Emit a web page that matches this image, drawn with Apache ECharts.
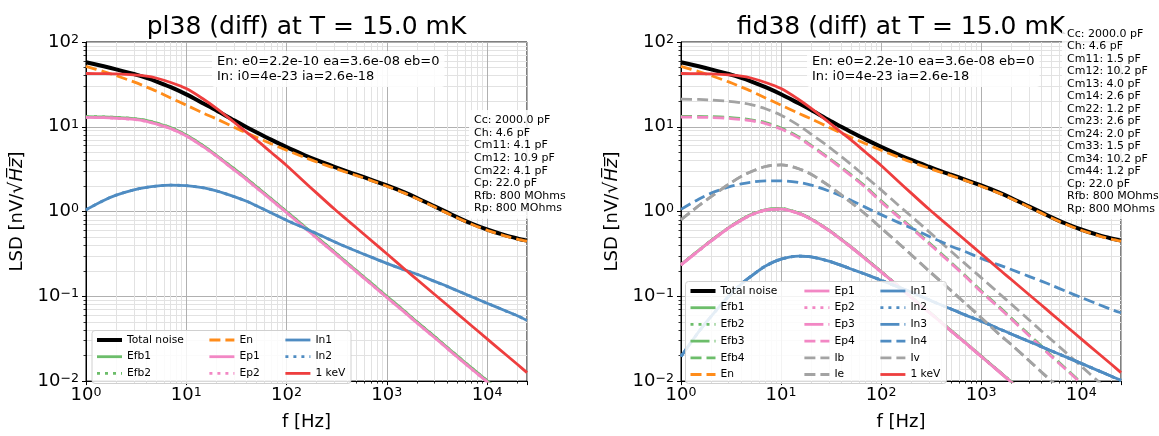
<!DOCTYPE html>
<html><head><meta charset="utf-8">
<script src="https://cdn.jsdelivr.net/npm/echarts@6/dist/echarts.min.js"></script>
<style>html,body{margin:0;padding:0;background:#fff}#c{width:1159px;height:436px}</style>
</head><body><div id="c"></div>
<script>
// ---------- data ----------
const freq = [1,1.5,2,3,4,5,7,10,15,20,30,40,50,70,100,150,200,300,400,500,700,1000,1500,2000,3000,4000,5000,7000,10000,15000,20000,25000];

// common curves
const enBoth = [51.6,44.8,40.1,33.8,29.5,26.4,21.9,18.0,14.4,12.4,9.88,8.44,7.53,6.32,5.29,4.37,3.84,3.25,2.89,2.65,2.32,1.99,1.65,1.418,1.129,0.958,0.844,0.709,0.602,0.517,0.474,0.448];
const keV = [42.5,42.3,42,41,39.6,37.6,33.3,28.2,21,16.5,11.3,8.6,7.0,5.0,3.5,2.25,1.65,1.07,0.8,0.64,0.455,0.318,0.21,0.158,0.105,0.079,0.063,0.045,0.0315,0.021,0.0158,0.0126];

// left plot: pl38
const totalL = [57.8,51.8,47.6,41.9,37.8,34.4,29.3,24.1,18.7,15.6,11.9,9.9,8.63,7.05,5.75,4.65,4.04,3.37,2.98,2.72,2.37,2.03,1.68,1.445,1.151,0.977,0.861,0.723,0.614,0.526,0.481,0.454];
const efbL = [13.2,13.1,12.9,12.5,11.9,11.1,9.8,8.0,5.9,4.6,3.2,2.45,1.97,1.42,1.0,0.67,0.5,0.335,0.25,0.2,0.143,0.1,0.067,0.05,0.0335,0.025,0.02,0.0143,0.0101,0.0067,0.005,0.004];
const epL = [12.9,12.8,12.6,12.2,11.6,10.8,9.5,7.8,5.75,4.5,3.1,2.38,1.91,1.38,0.97,0.65,0.485,0.325,0.243,0.194,0.139,0.097,0.065,0.0485,0.0325,0.0243,0.0194,0.0139,0.0098,0.0065,0.0049,0.0039];
const inL = [1.05,1.35,1.56,1.8,1.93,2.0,2.05,2.02,1.9,1.75,1.5,1.32,1.17,0.97,0.79,0.64,0.55,0.44,0.38,0.34,0.29,0.245,0.205,0.182,0.15,0.131,0.117,0.099,0.083,0.068,0.059,0.052];

// right plot: fid38
const totalR = [57.8,51.8,47.6,41.9,37.8,34.4,29.3,24.2,18.9,15.8,12.0,10.0,8.7,7.1,5.8,4.68,4.06,3.38,2.98,2.72,2.37,2.03,1.68,1.445,1.151,0.977,0.861,0.723,0.614,0.526,0.481,0.454];
const efb123R = [0.237,0.348,0.455,0.645,0.8,0.92,1.05,1.08,0.96,0.82,0.605,0.47,0.384,0.278,0.196,0.131,0.098,0.066,0.0495,0.0394,0.0283,0.0197,0.0131,0.0098,0.0066,0.0049,0.0039,0.0028,0.002,0.0013,0.001,0.0008];
const ep123R = [0.235,0.345,0.45,0.64,0.79,0.91,1.04,1.07,0.95,0.81,0.6,0.465,0.38,0.275,0.194,0.13,0.097,0.065,0.049,0.039,0.028,0.0195,0.013,0.0097,0.0065,0.0049,0.0039,0.0028,0.002,0.0013,0.001,0.0008];
const efb4R = [13.3,13.25,13.15,12.9,12.5,12.1,11.2,9.65,7.6,6.05,4.3,3.33,2.72,1.97,1.335,0.88,0.655,0.43,0.318,0.251,0.174,0.116,0.076,0.0553,0.0354,0.026,0.0202,0.0141,0.0096,0.0064,0.0047,0.0037];
const ep4R = [13.0,12.95,12.85,12.6,12.2,11.8,10.9,9.4,7.4,5.9,4.2,3.25,2.65,1.92,1.3,0.86,0.64,0.42,0.31,0.245,0.17,0.113,0.074,0.054,0.0345,0.0253,0.0197,0.0138,0.0094,0.0062,0.0046,0.0036];
const ibR = [21.2,21.0,20.7,20.0,19.2,18.3,16.3,13.7,10.4,8.2,5.8,4.45,3.6,2.58,1.8,1.18,0.88,0.58,0.43,0.34,0.24,0.166,0.109,0.081,0.053,0.039,0.031,0.0218,0.015,0.0098,0.0073,0.0058];
const ieR = [0.8,1.17,1.5,2.1,2.6,2.95,3.4,3.55,3.2,2.75,2.02,1.57,1.28,0.93,0.64,0.42,0.31,0.2,0.148,0.117,0.082,0.056,0.036,0.027,0.0175,0.0128,0.0101,0.0071,0.0049,0.0032,0.0024,0.0019];
const ivR = [0.8,1.17,1.5,2.1,2.6,2.95,3.4,3.55,3.2,2.75,2.02,1.57,1.28,0.93,0.64,0.42,0.31,0.2,0.148,0.117,0.082,0.056,0.036,0.027,0.0175,0.0128,0.0101,0.0071,0.0049,0.0032,0.0024,0.0019];
const in123R = [0.0195,0.038,0.058,0.1,0.14,0.172,0.228,0.275,0.298,0.292,0.26,0.232,0.21,0.182,0.155,0.128,0.112,0.091,0.079,0.071,0.06,0.051,0.0415,0.036,0.0294,0.0255,0.0228,0.0193,0.0162,0.0132,0.0114,0.0102];
const in4R = [1.06,1.4,1.65,1.95,2.12,2.22,2.3,2.3,2.2,2.05,1.75,1.53,1.36,1.12,0.92,0.74,0.64,0.51,0.44,0.39,0.335,0.28,0.235,0.207,0.172,0.151,0.136,0.115,0.097,0.08,0.07,0.064];

// ticks / texts
const xTickExp = [0,1,2,3,4];
const yTickExp = [-2,-1,0,1,2];
const titles = ['pl38 (diff) at T = 15.0 mK', 'fid38 (diff) at T = 15.0 mK'];
const noteLines = ['En: e0=2.2e-10 ea=3.6e-08 eb=0', 'In: i0=4e-23 ia=2.6e-18'];
const paramsL = ['Cc: 2000.0 pF','Ch: 4.6 pF','Cm11: 4.1 pF','Cm12: 10.9 pF','Cm22: 4.1 pF','Cp: 22.0 pF','Rfb: 800 MOhms','Rp: 800 MOhms'];
const paramsR = ['Cc: 2000.0 pF','Ch: 4.6 pF','Cm11: 1.5 pF','Cm12: 10.2 pF','Cm13: 4.0 pF','Cm14: 2.6 pF','Cm22: 1.2 pF','Cm23: 2.6 pF','Cm24: 2.0 pF','Cm33: 1.5 pF','Cm34: 10.2 pF','Cm44: 1.2 pF','Cp: 22.0 pF','Rfb: 800 MOhms','Rp: 800 MOhms'];
const legendColsL = [['Total noise','Efb1','Efb2'],['En','Ep1','Ep2'],['In1','In2','1 keV']];
const legendColsR = [['Total noise','Efb1','Efb2','Efb3','Efb4','En'],['Ep1','Ep2','Ep3','Ep4','Ib','Ie'],['In1','In2','In3','In4','Iv','1 keV']];

// ---------- styles ----------
const FONT = 'DejaVu Sans';
const C = {black:'#000000', green:'#6cbd6a', orange:'#ff8c1a', pink:'#f287c4', blue:'#4f8cc2', gray:'#a3a3a3', red:'#ee3e3e'};
const DASH = {solid:'solid', dot:[3,5], dashdot:[19,5,3,5], dash:[11,5]};
const GRIDS = [{left:86, top:42, width:441, height:347},{left:681, top:42, width:440, height:347}];

function mk(name, vals, color, dash, width, g) {
  return {type:'line', name, xAxisIndex:g, yAxisIndex:g,
    data: freq.map((f,i)=>[f, vals[i]]),
    showSymbol:false, symbol:'none', smooth:0.3, clip:true, silent:true, animation:false,
    lineStyle:{color, width, type:DASH[dash], cap:'butt', join:'round'}, itemStyle:{color}, z:2};
}

const series = [
  mk('Total noise', totalL, C.black, 'solid', 4, 0),
  mk('Efb1', efbL, C.green, 'solid', 2.8, 0),
  mk('Efb2', efbL, C.green, 'dot', 2.8, 0),
  mk('En', enBoth, C.orange, 'dash', 2.8, 0),
  mk('Ep1', epL, C.pink, 'solid', 2.8, 0),
  mk('Ep2', epL, C.pink, 'dot', 2.8, 0),
  mk('In1', inL, C.blue, 'solid', 2.8, 0),
  mk('In2', inL, C.blue, 'dot', 2.8, 0),
  mk('1 keV', keV, C.red, 'solid', 2.8, 0),

  mk('Total noise', totalR, C.black, 'solid', 4, 1),
  mk('Efb1', efb123R, C.green, 'solid', 2.8, 1),
  mk('Efb2', efb123R, C.green, 'dot', 2.8, 1),
  mk('Efb3', efb123R, C.green, 'dashdot', 2.8, 1),
  mk('Efb4', efb4R, C.green, 'dash', 2.8, 1),
  mk('En', enBoth, C.orange, 'dash', 2.8, 1),
  mk('Ep1', ep123R, C.pink, 'solid', 2.8, 1),
  mk('Ep2', ep123R, C.pink, 'dot', 2.8, 1),
  mk('Ep3', ep123R, C.pink, 'dashdot', 2.8, 1),
  mk('Ep4', ep4R, C.pink, 'dash', 2.8, 1),
  mk('Ib', ibR, C.gray, 'dash', 2.8, 1),
  mk('Ie', ieR, C.gray, 'dash', 2.8, 1),
  mk('In1', in123R, C.blue, 'solid', 2.8, 1),
  mk('In2', in123R, C.blue, 'dot', 2.8, 1),
  mk('In3', in123R, C.blue, 'dashdot', 2.8, 1),
  mk('In4', in4R, C.blue, 'dash', 2.8, 1),
  mk('Iv', ivR, C.gray, 'dash', 2.8, 1),
  mk('1 keV', keV, C.red, 'solid', 2.8, 1)
];

const RICH = {
  b:{fontSize:18, fontFamily:FONT, color:'#000', verticalAlign:'bottom', lineHeight:18},
  s:{fontSize:12.6, fontFamily:FONT, color:'#000', verticalAlign:'top', lineHeight:13, padding:[0,0,9,0]}
};
function powLabel(v){
  const e = Math.round(Math.log10(v));
  const ok = xTickExp.concat(yTickExp).indexOf(e) >= 0 && Math.abs(Math.log10(v) - e) < 1e-6;
  if (!ok) return '';
  return '{b|10}{s|' + (e < 0 ? '\u2212' + (-e) : String(e)) + '}';
}

function xAx(g){
  return {type:'log', logBase:10, gridIndex:g, min:1, max:25000,
    name:'f [Hz]', nameLocation:'middle', nameGap:31,
    nameTextStyle:{fontSize:18, fontFamily:FONT, color:'#000'},
    axisLine:{show:true, onZero:false, lineStyle:{color:'#000', width:1}},
    axisTick:{show:true, inside:false, length:4, lineStyle:{color:'#000', width:1}},
    minorTick:{show:true, splitNumber:9, length:2.5, lineStyle:{color:'#000', width:0.8}},
    splitLine:{show:true, lineStyle:{color:'#b0b0b0', width:1}},
    minorSplitLine:{show:true, lineStyle:{color:'#e2e2e2', width:1}},
    axisLabel:{formatter:powLabel, rich:RICH, margin:5, showMaxLabel:false, color:'#000'}};
}
function yAx(g){
  return {type:'log', logBase:10, gridIndex:g, min:0.01, max:100,
    name:'{n|LSD [nV/}{r|\u221A}{i|H\u0305z\u0305}{n|]}', nameLocation:'middle', nameGap:59, nameRotate:90,
    nameTextStyle:{fontSize:18, fontFamily:FONT, color:'#000',
      rich:{n:{fontSize:18, fontFamily:FONT, color:'#000'},
            r:{fontSize:19, fontFamily:FONT, color:'#000'},
            i:{fontSize:18, fontFamily:FONT, fontStyle:'italic', color:'#000'}}},
    axisLine:{show:true, onZero:false, lineStyle:{color:'#000', width:1}},
    axisTick:{show:true, inside:false, length:4, lineStyle:{color:'#000', width:1}},
    minorTick:{show:true, splitNumber:9, length:2.5, lineStyle:{color:'#000', width:0.8}},
    splitLine:{show:true, lineStyle:{color:'#b0b0b0', width:1}},
    minorSplitLine:{show:true, lineStyle:{color:'#e2e2e2', width:1}},
    axisLabel:{formatter:powLabel, rich:RICH, margin:7, color:'#000'}};
}

function legendCol(names, left, top){
  return {show:true, orient:'vertical', left, top, padding:0, itemWidth:25, itemHeight:12, itemGap:4.7,
    selectedMode:false, z:12,
    textStyle:{fontSize:10.7, fontFamily:FONT, color:'#000', lineHeight:12},
    itemStyle:{opacity:0}, lineStyle:{width:2.8},
    data: names.map(n => n === 'Total noise' ? {name:n, lineStyle:{width:4}} : {name:n})};
}
const legends = [
  legendCol(legendColsL[0], 95, 334), legendCol(legendColsL[1], 208, 334), legendCol(legendColsL[2], 284, 334),
  legendCol(legendColsR[0], 688.5, 285), legendCol(legendColsR[1], 803, 285), legendCol(legendColsR[2], 879, 285)
];

function boxText(x, y, lines, size, lh, pad, z){
  return {type:'text', x, y, z, silent:true,
    style:{text:lines.join('\n'), fontSize:size, fontFamily:FONT, fill:'#000', lineHeight:lh,
      align:'left', verticalAlign:'top', textAlign:'left', textVerticalAlign:'top',
      backgroundColor:'rgba(255,255,255,0.85)', padding:pad, borderRadius:3}};
}
const graphic = [
  {type:'text', x:GRIDS[0].left + GRIDS[0].width/2, y:27.5, z:8, silent:true,
   style:{text:titles[0], fontSize:25, fontFamily:FONT, fill:'#000', align:'center', verticalAlign:'middle', textAlign:'center', textVerticalAlign:'middle'}},
  {type:'text', x:GRIDS[1].left + GRIDS[1].width/2, y:27.5, z:8, silent:true,
   style:{text:titles[1], fontSize:25, fontFamily:FONT, fill:'#000', align:'center', verticalAlign:'middle', textAlign:'center', textVerticalAlign:'middle'}},
  boxText(212, 51, noteLines, 13, 15, [3,5,3,5], 14),
  boxText(807, 51, noteLines, 13, 15, [3,5,3,5], 14),
  boxText(469, 110, paramsL, 11, 12.6, [4,5,4,5], 14),
  boxText(1062, 23.5, paramsR, 11, 12.5, [4,5,4,5], 14),
  {type:'rect', z:10, silent:true, shape:{x:92, y:330.5, width:259, height:53, r:3},
   style:{fill:'rgba(255,255,255,0.85)', stroke:'#d0d0d0', lineWidth:1}},
  {type:'rect', z:10, silent:true, shape:{x:685.5, y:281.5, width:261, height:102, r:3},
   style:{fill:'rgba(255,255,255,0.85)', stroke:'#d0d0d0', lineWidth:1}}
];

const chart = echarts.init(document.getElementById('c'), null, {renderer:'canvas'});
chart.setOption({
  animation:false,
  backgroundColor:'#ffffff',
  textStyle:{fontFamily:FONT},
  grid: GRIDS.map(g => Object.assign({show:true, borderColor:'#000', borderWidth:1, backgroundColor:'#fff', containLabel:false}, g)),
  xAxis:[xAx(0), xAx(1)],
  yAxis:[yAx(0), yAx(1)],
  legend: legends,
  graphic: graphic,
  series: series
});
</script></body></html>
